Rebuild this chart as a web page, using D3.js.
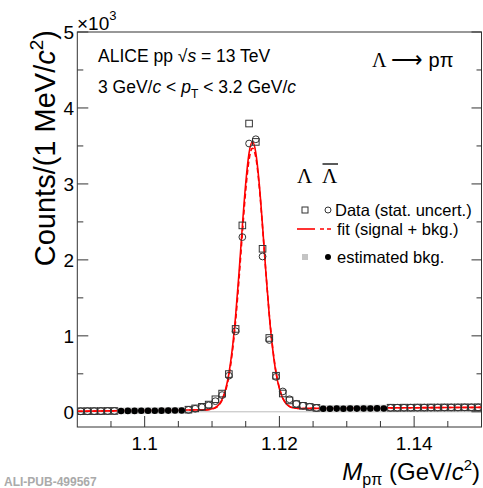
<!DOCTYPE html>
<html><head><meta charset="utf-8">
<script src="https://cdn.jsdelivr.net/npm/d3@7"></script>
<style>
body{margin:0;background:#fff}
svg{display:block}
text{font-family:"Liberation Sans",Arial,Helvetica,sans-serif;fill:#000}
.serif{font-family:"Liberation Serif","Times New Roman",serif}
</style>
</head><body>
<svg id="chart" width="483" height="488"></svg>
<script>
// ---------------- data ----------------
const binCenters = [
 1.0905,1.0915,1.0925,1.0935,1.0945,1.0955,1.0965,1.0975,1.0985,1.0995,
 1.1005,1.1015,1.1025,1.1035,1.1045,1.1055,1.1065,1.1075,1.1085,1.1095,
 1.1105,1.1115,1.1125,1.1135,1.1145,1.1155,1.1165,1.1175,1.1185,1.1195,
 1.1205,1.1215,1.1225,1.1235,1.1245,1.1255,1.1265,1.1275,1.1285,1.1295,
 1.1305,1.1315,1.1325,1.1335,1.1345,1.1355,1.1365,1.1375,1.1385,1.1395,
 1.1405,1.1415,1.1425,1.1435,1.1445,1.1455,1.1465,1.1475,1.1485,1.1495];
// Lambda counts (squares)
const lambdaCounts = [
 8,9,9,10,11,11,12,13,13,14,
 15,16,16,17,18,20,28,45,66,95,
 165,240,497,1091,2454,3795,3553,2146,972,475,
 241,150,101,79,64,52,46,45,47,46,
 48,47,49,48,50,49,54,53,55,54,
 56,55,57,56,58,57,58,59,58,60];
// anti-Lambda counts (circles)
const antiLambdaCounts = [
 7,8,9,9,10,11,11,12,12,13,
 14,14,15,16,17,18,25,40,60,85,
 140,220,475,1060,2300,3532,3588,2045,946,460,
 268,165,105,80,66,50,40,41,42,41,
 43,42,44,43,45,44,52,54,53,55,
 54,56,55,57,56,58,57,58,59,58];
// sideband flags (1 = bin used for the estimated background)
const sideband = [
 0,0,0,0,0,0,1,1,1,1,
 1,1,1,1,1,1,0,0,0,0,
 0,0,0,0,0,0,0,0,0,0,
 0,0,0,0,0,0,1,1,1,1,
 1,1,1,1,1,1,0,0,0,0,
 0,0,0,0,0,0,0,0,0,0];
// fit curves (signal + bkg.)
const fitMass = [1.0900,1.0950,1.1000,1.1050,1.1080,1.1090,1.1095,1.1100,1.1105,1.1110,
 1.1115,1.1120,1.1125,1.1130,1.1135,1.1140,1.1145,1.1150,1.1155,1.1160,
 1.1165,1.1170,1.1175,1.1180,1.1185,1.1190,1.1195,1.1200,1.1205,1.1210,
 1.1215,1.1220,1.1225,1.1230,1.1250,1.1300,1.1350,1.1400,1.1450,1.1500];
const fitLambda = [8,12,17,22,25,26,31,39,57,94,
 165,292,501,821,1262,1823,2443,3009,3409,3555,
 3410,3011,2446,1827,1267,828,508,302,175,106,
 69,53,46,44,45,48,51,54,56,58];
const fitAntiLambda = [7,11,16,21,24,25,29,36,52,86,
 152,272,470,775,1195,1740,2350,2915,3320,3470,
 3350,2975,2430,1830,1280,845,525,315,185,112,
 72,55,47,44,45,48,51,54,56,58];
const xMajorTicks = [1.10,1.12,1.14];
const xTickLabels = ["1.1","1.12","1.14"];
const xMinorTicks = [1.095,1.105,1.11,1.115,1.125,1.13,1.135,1.145];
const yMajorTicks = [0,1000,2000,3000,4000,5000];
const yTickLabels = ["0","1","2","3","4","5"];
const yMinorTicks = [500,1500,2500,3500,4500];

// ---------------- layout ----------------
const svg = d3.select("#chart");
const L = 77.3, R = 481.5, T = 32, B = 427;
const x = d3.scaleLinear().domain([1.09,1.15]).range([L,R]);
const y = d3.scaleLinear().domain([-200,5000]).range([B,T]);

svg.append("defs").append("clipPath").attr("id","clip")
  .append("rect").attr("x",L).attr("y",T).attr("width",R-L).attr("height",B-T);

// zero line
svg.append("line").attr("x1",L).attr("x2",R).attr("y1",y(0)).attr("y2",y(0))
  .attr("stroke","#bbb").attr("stroke-width",1);

// frame
svg.append("rect").attr("x",L).attr("y",T).attr("width",R-L).attr("height",B-T)
  .attr("fill","none").attr("stroke","#333").attr("stroke-width",1);

// axes ticks
const tk = svg.append("g").attr("stroke","#333").attr("stroke-width",1);
xMajorTicks.forEach(v=>tk.append("line").attr("x1",x(v)).attr("x2",x(v)).attr("y1",B).attr("y2",B-11));
xMinorTicks.forEach(v=>tk.append("line").attr("x1",x(v)).attr("x2",x(v)).attr("y1",B).attr("y2",B-6));
yMajorTicks.forEach(v=>{
  tk.append("line").attr("x1",L).attr("x2",L+11).attr("y1",y(v)).attr("y2",y(v));
  tk.append("line").attr("x1",R).attr("x2",R-10).attr("y1",y(v)).attr("y2",y(v));
});
yMinorTicks.forEach(v=>{
  tk.append("line").attr("x1",L).attr("x2",L+6).attr("y1",y(v)).attr("y2",y(v));
  tk.append("line").attr("x1",R).attr("x2",R-5).attr("y1",y(v)).attr("y2",y(v));
});

// tick labels
xMajorTicks.forEach((v,i)=>svg.append("text").attr("x",x(v)).attr("y",450)
  .attr("text-anchor","middle").attr("font-size",19).text(xTickLabels[i]));
yMajorTicks.forEach((v,i)=>svg.append("text").attr("x",74).attr("y",y(v)+7)
  .attr("text-anchor","end").attr("font-size",19).text(yTickLabels[i]));

// x10^3
const ex = svg.append("text").attr("x",77).attr("y",30).attr("font-size",19);
ex.append("tspan").text("×10");
ex.append("tspan").attr("font-size",13).attr("dy",-10).text("3");

// axis titles
const yt = svg.append("text").attr("transform","translate(55,30) rotate(-90)")
  .attr("text-anchor","end").attr("font-size",29);
yt.append("tspan").text("Counts/(1 MeV/");
yt.append("tspan").attr("font-style","italic").text("c");
yt.append("tspan").attr("font-size",19).attr("dy",-12).text("2");
yt.append("tspan").attr("dy",12).text(")");

const xt = svg.append("text").attr("x",480).attr("y",480).attr("text-anchor","end").attr("font-size",24);
xt.append("tspan").attr("font-style","italic").text("M");
xt.append("tspan").attr("font-size",16).attr("dy",5).text("pπ");
xt.append("tspan").attr("dy",-5).text(" (GeV/");
xt.append("tspan").attr("font-style","italic").text("c");
xt.append("tspan").attr("font-size",15).attr("dy",-10).text("2");
xt.append("tspan").attr("dy",10).text(")");

// ---------------- data marks ----------------
const plot = svg.append("g").attr("clip-path","url(#clip)");
const pts = binCenters.map((m,i)=>({m, a:lambdaCounts[i], b:antiLambdaCounts[i], sb:sideband[i]}));
const S = 6.6, Rc = 3.4;

// fit lines
const line = d3.line().x(d=>x(d[0])).y(d=>y(d[1])).curve(d3.curveMonotoneX);
plot.append("path").attr("d",line(fitMass.map((m,i)=>[m,fitLambda[i]])))
  .attr("fill","none").attr("stroke","#ff0000").attr("stroke-width",1.6);
plot.append("path").attr("d",line(fitMass.map((m,i)=>[m,fitAntiLambda[i]])))
  .attr("fill","none").attr("stroke","#ff0000").attr("stroke-width",1.6).attr("stroke-dasharray","5,3");

// open data markers
plot.selectAll(".sq").data(pts.filter(d=>!d.sb)).join("rect")
  .attr("x",d=>x(d.m)-S/2).attr("y",d=>y(d.a)-S/2).attr("width",S).attr("height",S)
  .attr("fill","none").attr("stroke","#333").attr("stroke-width",1);
plot.selectAll(".ci").data(pts.filter(d=>!d.sb)).join("circle")
  .attr("cx",d=>x(d.m)).attr("cy",d=>y(d.b)).attr("r",Rc)
  .attr("fill","none").attr("stroke","#333").attr("stroke-width",1);

// estimated background markers
plot.selectAll(".gsq").data(pts.filter(d=>d.sb)).join("rect")
  .attr("x",d=>x(d.m)-S/2).attr("y",d=>y(d.a)-S/2).attr("width",S).attr("height",S)
  .attr("fill","#c4c4c4");
plot.selectAll(".bci").data(pts.filter(d=>d.sb)).join("circle")
  .attr("cx",d=>x(d.m)).attr("cy",d=>y(d.b)).attr("r",3.3).attr("fill","#000");

// ---------------- texts ----------------
const t1 = svg.append("text").attr("x",98).attr("y",62).attr("font-size",17.5);
t1.append("tspan").text("ALICE pp ");
t1.append("tspan").text("√");
t1.append("tspan").attr("font-style","italic").text("s");
t1.append("tspan").text(" = 13 TeV");

const t2 = svg.append("text").attr("x",98).attr("y",93).attr("font-size",17.5);
t2.append("tspan").text("3 GeV/");
t2.append("tspan").attr("font-style","italic").text("c");
t2.append("tspan").text(" < ");
t2.append("tspan").attr("font-style","italic").text("p");
t2.append("tspan").attr("font-size",12).attr("dy",5).text("T");
t2.append("tspan").attr("dy",-5).text(" < 3.2 GeV/");
t2.append("tspan").attr("font-style","italic").text("c");

const t3 = svg.append("text").attr("class","serif").attr("x",372).attr("y",67).attr("font-size",20);
t3.append("tspan").text("Λ ");
t3.append("tspan").attr("font-size",22).text("⟶");
t3.append("tspan").attr("font-family","'Liberation Sans',Arial,sans-serif").text(" pπ");

// legend
svg.append("text").attr("class","serif").attr("x",297).attr("y",183).attr("font-size",21).text("Λ");
svg.append("text").attr("class","serif").attr("x",322).attr("y",183).attr("font-size",21).text("Λ");
svg.append("line").attr("x1",322.5).attr("x2",338).attr("y1",164).attr("y2",164).attr("stroke","#000").attr("stroke-width",1.3);

const lg = svg.append("g");
lg.append("rect").attr("x",305-3).attr("y",210-3).attr("width",6).attr("height",6)
  .attr("fill","none").attr("stroke","#333");
lg.append("circle").attr("cx",328).attr("cy",210).attr("r",3).attr("fill","none").attr("stroke","#333");
lg.append("text").attr("x",335).attr("y",216).attr("font-size",16.5).text("Data (stat. uncert.)");

lg.append("line").attr("x1",297).attr("x2",315).attr("y1",229).attr("y2",229).attr("stroke","#ff0000").attr("stroke-width",1.6);
lg.append("line").attr("x1",320).attr("x2",334).attr("y1",229).attr("y2",229).attr("stroke","#ff0000").attr("stroke-width",1.6).attr("stroke-dasharray","4,3");
lg.append("text").attr("x",337).attr("y",235).attr("font-size",16.5).text("fit (signal + bkg.)");

lg.append("rect").attr("x",305-3).attr("y",257-3).attr("width",6).attr("height",6).attr("fill","#c4c4c4");
lg.append("circle").attr("cx",328).attr("cy",257).attr("r",3).attr("fill","#000");
lg.append("text").attr("x",337).attr("y",263).attr("font-size",16.5).text("estimated bkg.");

// footer
svg.append("text").attr("x",4).attr("y",486).attr("font-family","'Liberation Mono','DejaVu Sans Mono',monospace")
  .attr("font-weight","bold").attr("font-size",12).style("fill","#aaa").text("ALI-PUB-499567");
</script>
</body></html>
